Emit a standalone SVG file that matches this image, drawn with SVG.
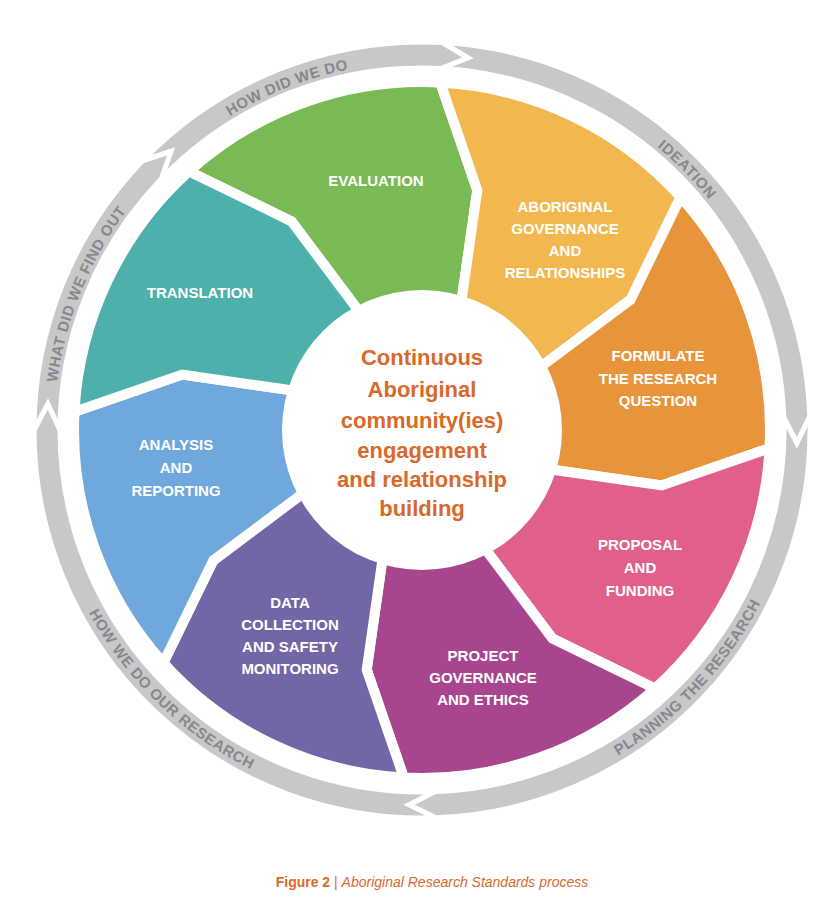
<svg xmlns="http://www.w3.org/2000/svg" width="828" height="907" viewBox="0 0 828 907">
<style>
.seg{stroke:#fff;stroke-width:10;stroke-linejoin:miter}
.ring{fill:#c8c8c9;stroke:#fff;stroke-width:5}
.lbl{font-family:"Liberation Sans",Arial,sans-serif;font-weight:bold;font-size:15px;fill:#fff;text-anchor:middle}
.rt{font-family:"Liberation Sans",Arial,sans-serif;font-weight:bold;font-size:15px;fill:#85888d;letter-spacing:0.5px}
.ctr{font-family:"Liberation Sans",Arial,sans-serif;font-weight:bold;font-size:22px;fill:#d9692a;text-anchor:middle}
</style>
<defs>
<path id="pIdea" d="M441.3,62.5 A368,368 0 0 1 789.8,417.2"/>
<path id="pHow" d="M157.3,174.4 A368,368 0 0 1 441.3,62.5"/>
<path id="pWhat" d="M54,430 A368,368 0 0 1 157.3,174.4"/>
<path id="pPlan" d="M435.3,809.8 A380,380 0 0 0 801.8,416.7"/>
<path id="pHowWe" d="M42,430 A380,380 0 0 0 435.3,809.8"/>
</defs>
<rect width="828" height="907" fill="#fff"/>
<g id="ring">
<path class="ring" d="M442.3,42.5 A388,388 0 0 1 809.8,416.5 L796.8,443.1 L783.8,417.4 A362,362 0 0 0 440.9,68.5 L467.7,57.8 Z"/>
<path class="ring" d="M809.8,416.5 A388,388 0 0 1 435.5,817.8 L408.9,804.8 L434.6,791.8 A362,362 0 0 0 783.8,417.4 L796.8,443.1 Z"/>
<path class="ring" d="M435.5,817.8 A388,388 0 0 1 34,430 L47.9,403.8 L60,430 A362,362 0 0 0 434.6,791.8 L408.9,804.8 Z"/>
<path class="ring" d="M34,430 A388,388 0 0 1 142.9,160.5 L171.1,151.3 L161.6,178.5 A362,362 0 0 0 60,430 L47.9,403.8 Z"/>
<path class="ring" d="M142.9,160.5 A388,388 0 0 1 442.3,42.5 L467.7,57.8 L440.9,68.5 A362,362 0 0 0 161.6,178.5 L171.1,151.3 Z"/>
<text class="rt"><textPath href="#pIdea" startOffset="50%" text-anchor="middle">IDEATION</textPath></text>
<text class="rt"><textPath href="#pHow" startOffset="50%" text-anchor="middle">HOW DID WE DO</textPath></text>
<text class="rt"><textPath href="#pWhat" startOffset="50%" text-anchor="middle">WHAT DID WE FIND OUT</textPath></text>
<text class="rt"><textPath href="#pPlan" startOffset="50%" text-anchor="middle">PLANNING THE RESEARCH</textPath></text>
<text class="rt"><textPath href="#pHowWe" startOffset="50%" text-anchor="middle">HOW WE DO OUR RESEARCH</textPath></text>
</g>
<g id="evaluation"><path class="seg" fill="#7aba54" d="M189.1,171.4 A348,348 0 0 1 440.2,82.5 L477.3,190.3 L461.5,300.9 L358.6,310.8 L291.6,221.4 Z"/>
<text class="lbl" x="376" y="186">EVALUATION</text></g>
<g id="aboriginal-governance"><path class="seg" fill="#f2b84f" d="M440.2,82.5 A348,348 0 0 1 680.6,197.1 L630.6,299.6 L541.2,366.6 L461.5,300.9 L477.3,190.3 Z"/>
<text class="lbl" x="565" y="212">ABORIGINAL</text><text class="lbl" x="565" y="234">GOVERNANCE</text><text class="lbl" x="565" y="256">AND</text><text class="lbl" x="565" y="278">RELATIONSHIPS</text></g>
<g id="formulate"><path class="seg" fill="#e8943a" d="M680.6,197.1 A348,348 0 0 1 769.5,448.2 L661.7,485.4 L551.1,469.5 L541.2,366.6 L630.6,299.6 Z"/>
<text class="lbl" x="658" y="361">FORMULATE</text><text class="lbl" x="658" y="384">THE RESEARCH</text><text class="lbl" x="658" y="406">QUESTION</text></g>
<g id="proposal"><path class="seg" fill="#e0608a" d="M769.5,448.2 A348,348 0 0 1 654.9,688.6 L552.4,638.6 L485.4,549.2 L551.1,469.5 L661.7,485.4 Z"/>
<text class="lbl" x="640" y="550">PROPOSAL</text><text class="lbl" x="640" y="573">AND</text><text class="lbl" x="640" y="596">FUNDING</text></g>
<g id="project-governance"><path class="seg" fill="#a8458f" d="M654.9,688.6 A348,348 0 0 1 403.8,777.5 L366.7,669.7 L382.5,559.1 L485.4,549.2 L552.4,638.6 Z"/>
<text class="lbl" x="483" y="661">PROJECT</text><text class="lbl" x="483" y="683">GOVERNANCE</text><text class="lbl" x="483" y="705">AND ETHICS</text></g>
<g id="data-collection"><path class="seg" fill="#7266a6" d="M403.8,777.5 A348,348 0 0 1 163.4,662.8 L213.4,560.4 L302.8,493.4 L382.5,559.1 L366.7,669.7 Z"/>
<text class="lbl" x="290" y="608">DATA</text><text class="lbl" x="290" y="630">COLLECTION</text><text class="lbl" x="290" y="652">AND SAFETY</text><text class="lbl" x="290" y="674">MONITORING</text></g>
<g id="analysis"><path class="seg" fill="#6fa8dc" d="M163.4,662.8 A348,348 0 0 1 74.5,411.8 L182.3,374.6 L292.9,390.5 L302.8,493.4 L213.4,560.4 Z"/>
<text class="lbl" x="176" y="450">ANALYSIS</text><text class="lbl" x="176" y="473">AND</text><text class="lbl" x="176" y="496">REPORTING</text></g>
<g id="translation"><path class="seg" fill="#4db0ab" d="M74.5,411.8 A348,348 0 0 1 189.1,171.4 L291.6,221.4 L358.6,310.8 L292.9,390.5 L182.3,374.6 Z"/>
<text class="lbl" x="200" y="298">TRANSLATION</text></g>
<g id="center"><circle cx="422" cy="430" r="140" fill="#fff"/>
<text class="ctr" x="422" y="365">Continuous</text><text class="ctr" x="422" y="397">Aboriginal</text><text class="ctr" x="422" y="428">community(ies)</text><text class="ctr" x="422" y="458">engagement</text><text class="ctr" x="422" y="487">and relationship</text><text class="ctr" x="422" y="516">building</text></g>
<g id="connectors"/>
<text x="432" y="887" text-anchor="middle" font-family="Liberation Sans,Arial,sans-serif" font-size="14" fill="#d9692a"><tspan font-weight="bold">Figure 2</tspan> | <tspan font-style="italic">Aboriginal Research Standards process</tspan></text>
</svg>
